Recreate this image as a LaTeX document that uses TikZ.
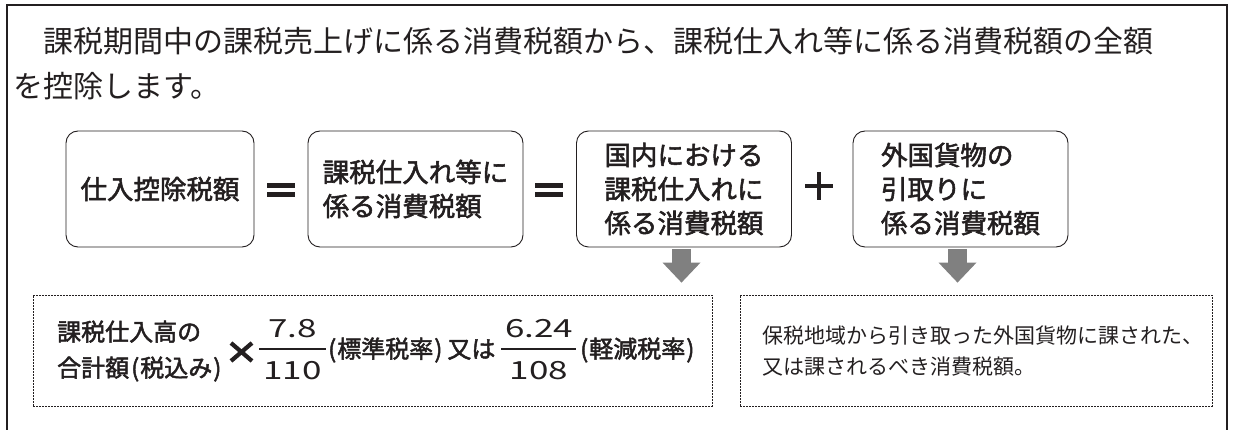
\documentclass[tikz,border=0pt]{standalone}
\usepackage{fontspec}
\setmainfont{Noto Sans CJK JP}
\newfontfamily\numfont{Noto Sans CJK JP}[FakeStretch=1.4]
\newfontfamily\heavyfont{Noto Sans CJK JP}[FakeBold=2]
\newcommand{\jparen}[1]{\kern2pt(\kern1pt#1\kern1pt)\kern5pt}
\usetikzlibrary{arrows.meta}
\definecolor{inkblack}{HTML}{231F20}
\definecolor{arrowgray}{HTML}{808080}

\begin{document}
\begin{tikzpicture}[x=1pt,y=-1pt,
    every node/.style={inner sep=0pt,text=inkblack},
    leadtext/.style={anchor=west,font=\fontsize{30}{30}\selectfont},
    sumbox/.style={draw=inkblack,line width=0.9pt,rounded corners=12pt,
      minimum height=116pt,align=left,font=\heavyfont\fontsize{26.5}{34}\selectfont},
    notebox/.style={draw=inkblack,line width=0.8pt,
      dash pattern=on 1.6pt off 1.4pt,minimum height=111pt},
    calctext/.style={anchor=west,align=left,font=\heavyfont\fontsize{24}{36}\selectfont},
    digits/.style={font=\numfont\fontsize{25}{25}\selectfont},
    fracbar/.style={draw=inkblack,line width=1.6pt},
    opbar/.style={fill=inkblack},
    downarrow/.style={draw=arrowgray,line width=19pt,
      -{Triangle[width=38pt,length=20pt,line width=0pt]},
      shorten <=2pt,shorten >=12pt}]
  \useasboundingbox (0,0) rectangle (1235,430);
  % frame, open at the bottom
  \draw[inkblack,line width=1.2pt] (7,430) -- (7,5) -- (1227,5) -- (1227,430);

  \node[leadtext] (lead1) at (13,41) {　課税期間中の課税売上げに係る消費税額から、課税仕入れ等に係る消費税額の全額};
  \node[leadtext] (lead2) at (13,86) {を控除します。};

  % the equation
  \node[sumbox,minimum width=188pt] (deduct) at (160,189) {仕入控除税額};
  \node[sumbox,minimum width=215pt] (taxable) at (415.5,189) {課税仕入れ等に\\係る消費税額};
  \node[sumbox,minimum width=215pt] (domestic) at (684,189) {国内における\\課税仕入れに\\係る消費税額};
  \node[sumbox,minimum width=215pt] (imported) at (960.5,189) {外国貨物の\\引取りに\\係る消費税額};

  \fill[opbar] (267,183) rectangle (295,188);
  \fill[opbar] (267,192) rectangle (295,197);
  \fill[opbar] (535,183) rectangle (563,188);
  \fill[opbar] (535,192) rectangle (563,197);
  \fill[opbar] (805,183.75) rectangle (833,188.25);
  \fill[opbar] (816.75,172) rectangle (821.25,200);

  % explanations
  \node[notebox,minimum width=679pt] (calc) at (372.5,350.5) {};
  \node[notebox,minimum width=472pt] (customs) at (976,350.5) {};

  \draw[downarrow] ([xshift=-2.5pt]domestic.south) -- ([xshift=-2.5pt]domestic.south |- calc.north);
  \draw[downarrow] ([xshift=-3pt]imported.south) -- ([xshift=-3pt]imported.south |- customs.north);

  \node[calctext] (base) at (57,351) {課税仕入高の\\合計額\jparen{税込み}};
  \draw[inkblack,line width=4.2pt] (231,343) -- (252,361);
  \draw[inkblack,line width=4.2pt] (231,361) -- (252,343);
  \node[digits] (num1) at (292.5,329) {7.8};
  \node[digits] (den1) at (292.5,371) {110};
  \draw[fracbar] (259,349) -- (326,349);
  \node[calctext] (std) at (326,350) {\jparen{標準税率}又は};
  \node[digits] (num2) at (539,329) {6.24};
  \node[digits] (den2) at (539,371) {108};
  \draw[fracbar] (501,349) -- (576,349);
  \node[calctext] (red) at (578,350) {\jparen{軽減税率}};

  \node[calctext,font=\fontsize{21}{31}\selectfont] (note) at (762,351.5) {保税地域から引き取った外国貨物に課された、\\又は課されるべき消費税額。};
\end{tikzpicture}
\end{document}
